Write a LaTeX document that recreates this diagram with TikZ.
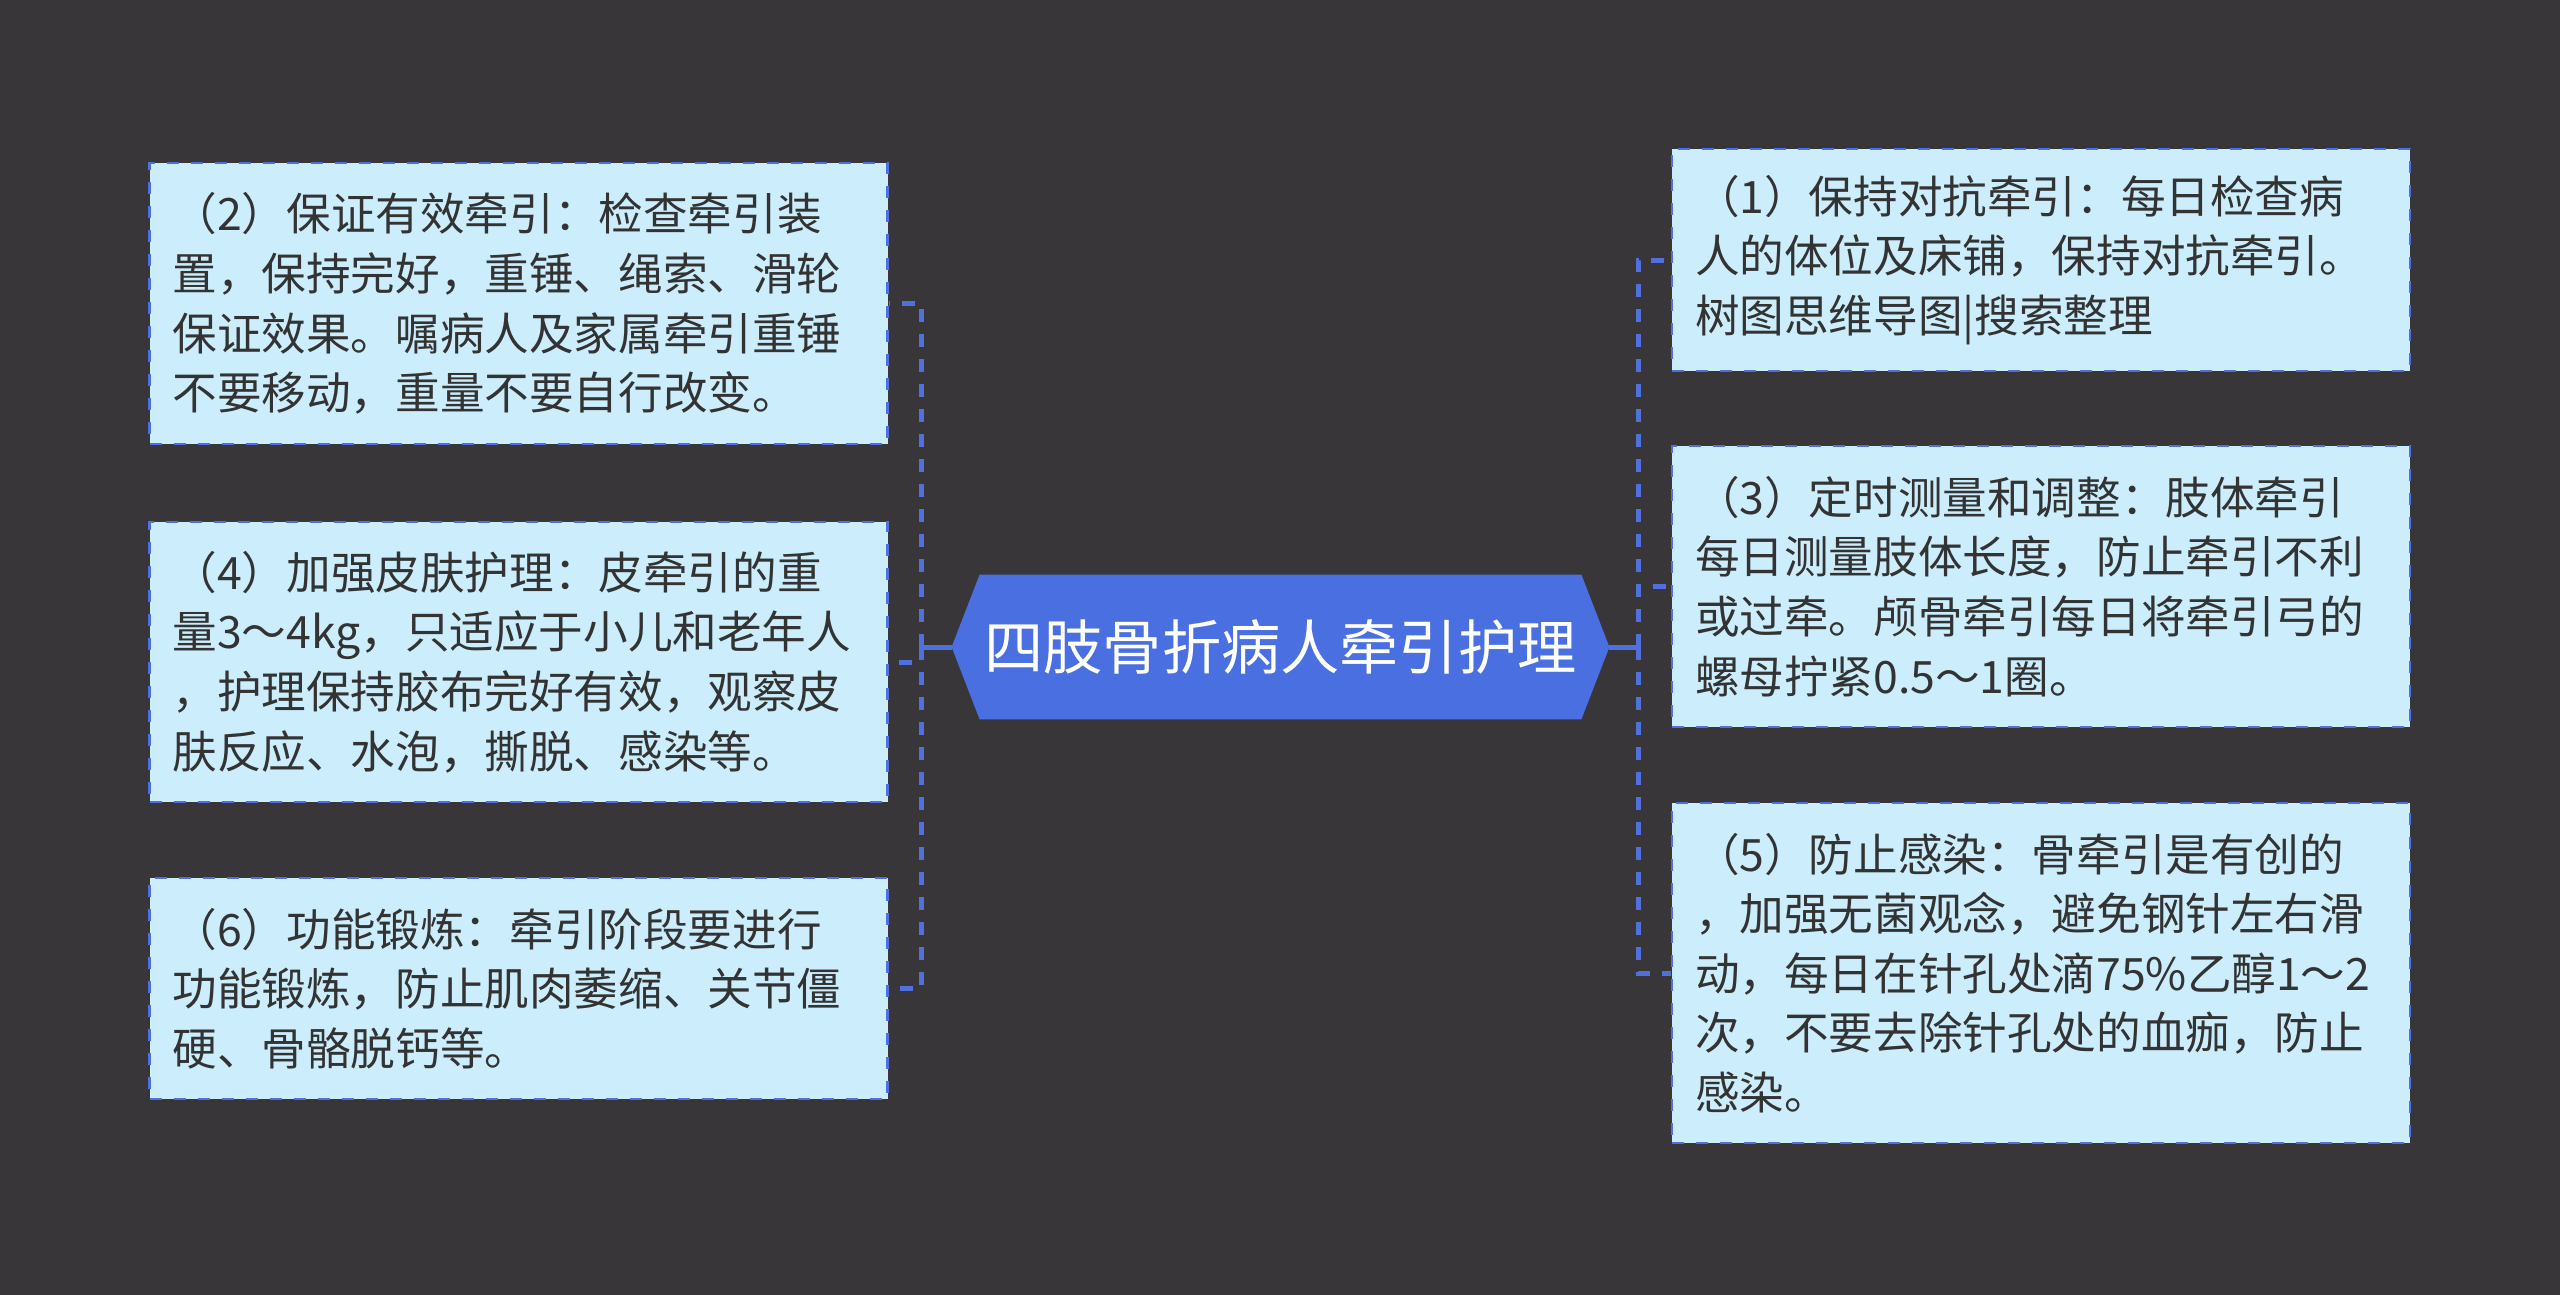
\documentclass[tikz,border=0pt]{standalone}
\usepackage{fontspec}
\newfontfamily\cjk{Noto Sans CJK SC}
\usetikzlibrary{backgrounds}
\definecolor{bgdark}{RGB}{56,54,56}
\definecolor{rootblue}{RGB}{74,111,224}
\definecolor{leafcyan}{RGB}{204,238,252}
\definecolor{linkblue}{RGB}{80,112,222}
\definecolor{inkgray}{RGB}{51,51,51}
\begin{document}
\begin{tikzpicture}[x = .5pt, y = -.5pt,
		leaf/.style = {draw = linkblue, dash pattern = on 6pt off 6pt, line width = 1.3pt, fill = leafcyan, text = inkgray,
			font = \cjk\fontsize{22.3pt}{29.8pt}\selectfont, align = left, text width = 346pt, inner xsep = 11.5pt, inner ysep = 0pt},
		hubnode/.style = {text = white, font = \cjk\fontsize{29.6pt}{36pt}\selectfont, minimum width = 328.5pt, minimum height = 72pt, inner sep = 0pt},
		trunk/.style = {draw = linkblue, line width = 2.5pt},
		branch/.style = {draw = linkblue, line width = 2.5pt, dash pattern = on 6.5pt off 6pt}]
	\useasboundingbox (0, 0) rectangle (2560, 1295);
	\node[hubnode] (hub) at (1280.5, 647) {四肢骨折病人牵引护理};
	% left side
	\node[leaf, minimum height = 140.5pt] (n2) at (518.5, 303.5) {（2）保证有效牵引：检查牵引装\\置，保持完好，重锤、绳索、滑轮\\保证效果。嘱病人及家属牵引重锤\\不要移动，重量不要自行改变。};
	\node[leaf, minimum height = 140pt] (n4) at (518.5, 662) {（4）加强皮肤护理：皮牵引的重\\量3～4kg，只适应于小儿和老年人\\，护理保持胶布完好有效，观察皮\\肤反应、水泡，撕脱、感染等。};
	\node[leaf, minimum height = 110.5pt] (n6) at (518.5, 988.5) {（6）功能锻炼：牵引阶段要进行\\功能锻炼，防止肌肉萎缩、关节僵\\硬、骨骼脱钙等。};
	% right side
	\node[leaf, minimum height = 111pt] (n1) at (2041, 260) {（1）保持对抗牵引：每日检查病\\人的体位及床铺，保持对抗牵引。\\树图思维导图|搜索整理};
	\node[leaf, minimum height = 140.5pt] (n3) at (2041, 586.5) {（3）定时测量和调整：肢体牵引\\每日测量肢体长度，防止牵引不利\\或过牵。颅骨牵引每日将牵引弓的\\螺母拧紧0.5～1圈。};
	\node[leaf, minimum height = 170pt] (n5) at (2041, 973) {（5）防止感染：骨牵引是有创的\\，加强无菌观念，避免钢针左右滑\\动，每日在针孔处滴75\%乙醇1～2\\次，不要去除针孔处的血痂，防止\\感染。};
	\begin{scope}[on background layer]
		\fill[bgdark] (0, 0) rectangle (2560, 1295);
		\fill[rootblue] ([xshift = 14pt]hub.north west) -- ([xshift = -14pt]hub.north east) -- (hub.east)
			-- ([xshift = -14pt]hub.south east) -- ([xshift = 14pt]hub.south west) -- (hub.west) -- cycle;
	\end{scope}
	\coordinate (lj) at ([xshift = -15pt]hub.west);
	\coordinate (rj) at ([xshift = 14.5pt]hub.east);
	\draw[trunk] (hub.west) -- (lj);
	\draw[trunk] (hub.east) -- (rj);
	\foreach \b in {n2, n4, n6}
	\draw[branch] (lj) |- (\b.east);
	\foreach \b in {n1, n3, n5}
	\draw[branch] (rj) |- (\b.west);
\end{tikzpicture}
\end{document}
